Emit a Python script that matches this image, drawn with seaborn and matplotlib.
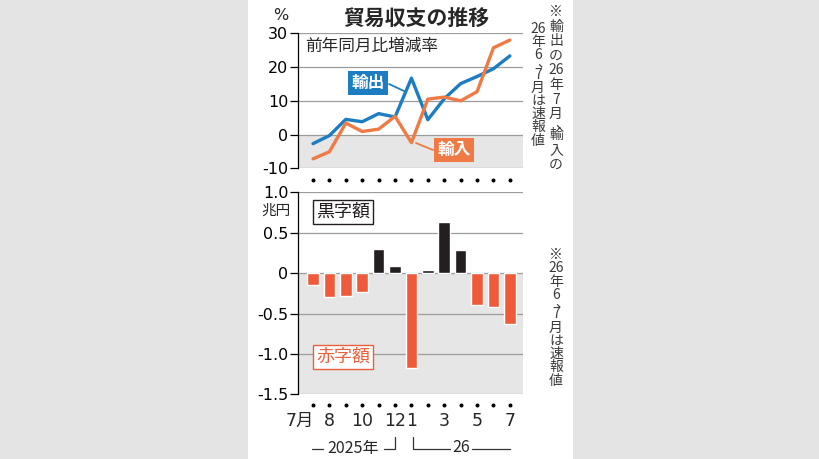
import numpy as np
import pandas as pd
import matplotlib
matplotlib.use("Agg")
import matplotlib.pyplot as plt
import seaborn as sns
from matplotlib.lines import Line2D
from matplotlib.patches import Rectangle
import matplotlib.transforms as mtransforms

# ---------------- data ----------------
months = ["2025-07", "2025-08", "2025-09", "2025-10", "2025-11", "2025-12",
          "2026-01", "2026-02", "2026-03", "2026-04", "2026-05", "2026-06", "2026-07"]
month_labels = ["7月", "8", "", "10", "", "12", "1", "", "3", "", "5", "", "7"]
exports_yoy = [-2.7, -0.3, 4.5, 3.8, 6.2, 5.2, 16.7, 4.4, 10.6, 15.1, 17.2, 19.5, 23.3]
imports_yoy = [-7.2, -5.1, 3.4, 0.9, 1.6, 5.4, -2.4, 10.5, 11.1, 10.0, 12.7, 25.7, 28.0]
trade_balance = [-0.15, -0.29, -0.28, -0.24, 0.30, 0.09, -1.17, 0.04, 0.63, 0.28, -0.40, -0.42, -0.63]
top_ticks = [30, 20, 10, 0, -10]
bottom_ticks = [1.0, 0.5, 0.0, -0.5, -1.0, -1.5]
bottom_tick_labels = ["1.0", "0.5", "0", "-0.5", "-1.0", "-1.5"]

# ---------------- style ----------------
sns.set_style("white")
plt.rcParams["font.family"] = ["DejaVu Sans", "Noto Sans CJK JP"]
plt.rcParams["axes.unicode_minus"] = False
JP = ["Noto Sans CJK JP", "DejaVu Sans"]

BLUE = "#1c7dc3"
ORANGE = "#f07a45"
RED = "#ee5a3a"
BLACK = "#231f20"
SHADE = "#e6e6e6"
GRID = "#9c9c9c"
SIDE = "#e4e4e4"
NOTE = "#3a3a3a"

W, H = 820, 459
fig = plt.figure(figsize=(W / 100, H / 100), dpi=100, facecolor=SIDE)

def fx(px):
    return px / W

def fy(py):
    return 1 - py / H

# white panel
fig.patches.append(Rectangle((fx(248), 0), fx(573) - fx(248), 1,
                             transform=fig.transFigure, facecolor="white",
                             edgecolor="none", zorder=-10))

X_LEFT, X_RIGHT = -0.915, 12.8
ax_l, ax_r = 298, 523

# ---------------- top panel ----------------
ax1 = fig.add_axes([fx(ax_l), fy(168.3), fx(ax_r) - fx(ax_l), (168.3 - 33.3) / H])
ax1.set_facecolor("none")
x_idx = np.arange(len(months))
ax1.axhspan(-10, 0, color=SHADE, zorder=0, lw=0)
for v in top_ticks:
    ax1.axhline(v, color=GRID, lw=0.9, zorder=1)
sns.lineplot(x=x_idx, y=exports_yoy, ax=ax1, color=BLUE, linewidth=2.4, zorder=3)
sns.lineplot(x=x_idx, y=imports_yoy, ax=ax1, color=ORANGE, linewidth=2.4, zorder=4)
ax1.set_ylim(-10, 30)
ax1.set_xlim(X_LEFT, X_RIGHT)
ax1.set_yticks(top_ticks)
ax1.set_yticklabels([str(t) for t in top_ticks])
ax1.set_xticks([])
for s in ["top", "right", "bottom"]:
    ax1.spines[s].set_visible(False)
ax1.spines["left"].set_color("black")
ax1.spines["left"].set_linewidth(0.9)
ax1.tick_params(axis="y", left=True, direction="out", length=6, width=0.9,
                pad=1, labelsize=11.5, colors="black")
ax1.set_xlabel("")
ax1.set_ylabel("")
# dots between panels
ax1.scatter(x_idx, np.full(len(x_idx), -13.5), s=3.5, color="black", clip_on=False, zorder=5)

# ---------------- bottom panel ----------------
ax2 = fig.add_axes([fx(ax_l), fy(394.3), fx(ax_r) - fx(ax_l), (394.3 - 192.3) / H])
ax2.set_facecolor("none")
ax2.axhspan(-1.5, 0, color=SHADE, zorder=0, lw=0)
for v in bottom_ticks:
    ax2.axhline(v, color=GRID, lw=0.9, zorder=1)
df = pd.DataFrame({"month": months, "value": trade_balance,
                   "kind": ["黒字" if v >= 0 else "赤字" for v in trade_balance]})
sns.barplot(data=df, x="month", y="value", hue="kind", order=months,
            palette={"黒字": BLACK, "赤字": RED}, dodge=False, width=0.71,
            saturation=1, legend=False, ax=ax2, zorder=3)
ax2.set_ylim(-1.5, 1.0)
ax2.set_xlim(X_LEFT, X_RIGHT)
ax2.set_yticks(bottom_ticks)
ax2.set_yticklabels(bottom_tick_labels)
ax2.set_xticks([])
for s in ["top", "right", "bottom"]:
    ax2.spines[s].set_visible(False)
ax2.spines["left"].set_color("black")
ax2.spines["left"].set_linewidth(0.9)
ax2.tick_params(axis="y", left=True, direction="out", length=6, width=0.9,
                pad=1, labelsize=11.5, colors="black")
ax2.set_xlabel("")
ax2.set_ylabel("")
ax2.scatter(x_idx, np.full(len(x_idx), -1.63), s=3.5, color="black", clip_on=False, zorder=5)

# month labels
trans = mtransforms.blended_transform_factory(ax2.transData, fig.transFigure)
for i, lab in enumerate(month_labels):
    if not lab:
        continue
    if lab.endswith("月"):
        ax2.text(i + 0.08, fy(421), lab, transform=trans, ha="right", va="center",
                 fontsize=12.5, family=["DejaVu Sans", "Noto Sans CJK JP"])
    else:
        ax2.text(i, fy(421), lab, transform=trans, ha="center", va="center",
                 fontsize=12.5, family=["DejaVu Sans"])

# year brackets
def fline(xs, ys, color="#333333", lw=0.9):
    fig.add_artist(Line2D([fx(x) for x in xs], [fy(y) for y in ys],
                          transform=fig.transFigure, color=color, lw=lw))

fline([312, 323], [449, 449])
fig.text(fx(353), fy(448), "2025年", ha="center", va="center", fontsize=11.5, family=JP)
fline([384, 395, 395], [449, 449, 437])
fline([413, 413, 450], [437, 449, 449])
fig.text(fx(461), fy(448), "26", ha="center", va="center", fontsize=11.5, family=JP)
fline([472, 510], [449, 449])

# ---------------- texts ----------------
fig.text(fx(416), fy(18), "貿易収支の推移", ha="center", va="center",
         fontsize=15, fontweight="bold", family=JP)
fig.text(fx(281), fy(15), "%", ha="center", va="center", fontsize=11.5)
fig.text(fx(305), fy(46), "前年同月比増減率", ha="left", va="center", fontsize=12, family=JP)
fig.text(fx(276), fy(211), "兆円", ha="center", va="center", fontsize=10.5, family=JP)

# series labels
fig.text(fx(368), fy(83), "輸出", ha="center", va="center", fontsize=12, color="white",
         fontweight="bold", family=JP,
         bbox=dict(boxstyle="square,pad=0.2", facecolor=BLUE, edgecolor="none"))
fline([389, 404], [84, 91], color=BLUE, lw=1.3)
fig.text(fx(454), fy(150), "輸入", ha="center", va="center", fontsize=12, color="white",
         fontweight="bold", family=JP,
         bbox=dict(boxstyle="square,pad=0.2", facecolor=ORANGE, edgecolor="none"))
fline([416, 433], [143, 150], color=ORANGE, lw=1.3)

fig.text(fx(343), fy(212), "黒字額", ha="center", va="center", fontsize=13, color=BLACK,
         family=JP,
         bbox=dict(boxstyle="square,pad=0.15", facecolor="white", edgecolor=BLACK, lw=1))
fig.text(fx(343), fy(357), "赤字額", ha="center", va="center", fontsize=13, color="#e9603b",
         family=JP,
         bbox=dict(boxstyle="square,pad=0.15", facecolor="white", edgecolor="#e9603b", lw=1))

# vertical notes
def vtext(xc, y0, cells, step=13.8, size=10):
    y = y0
    for c in cells:
        if c == "、":
            fig.text(fx(xc + 6), fy(y - 6), c, ha="center", va="center",
                     fontsize=size, family=JP, color=NOTE)
            y += step * 0.45
            continue
        fig.text(fx(xc), fy(y), c, ha="center", va="center", fontsize=size,
                 family=JP, color=NOTE)
        y += step

vtext(556, 12, ["※", "輸", "出", "の", "26", "年", "7", "月", "、", "輸", "入", "の"], step=14.6)
vtext(538, 29, ["26", "年", "6", "、", "7", "月", "は", "速", "報", "値"], step=13.2)
vtext(556, 255, ["※", "26", "年", "6", "、", "7", "月", "は", "速", "報", "値"], step=13.3)

fig.savefig("out.png", dpi=100, facecolor=SIDE)
